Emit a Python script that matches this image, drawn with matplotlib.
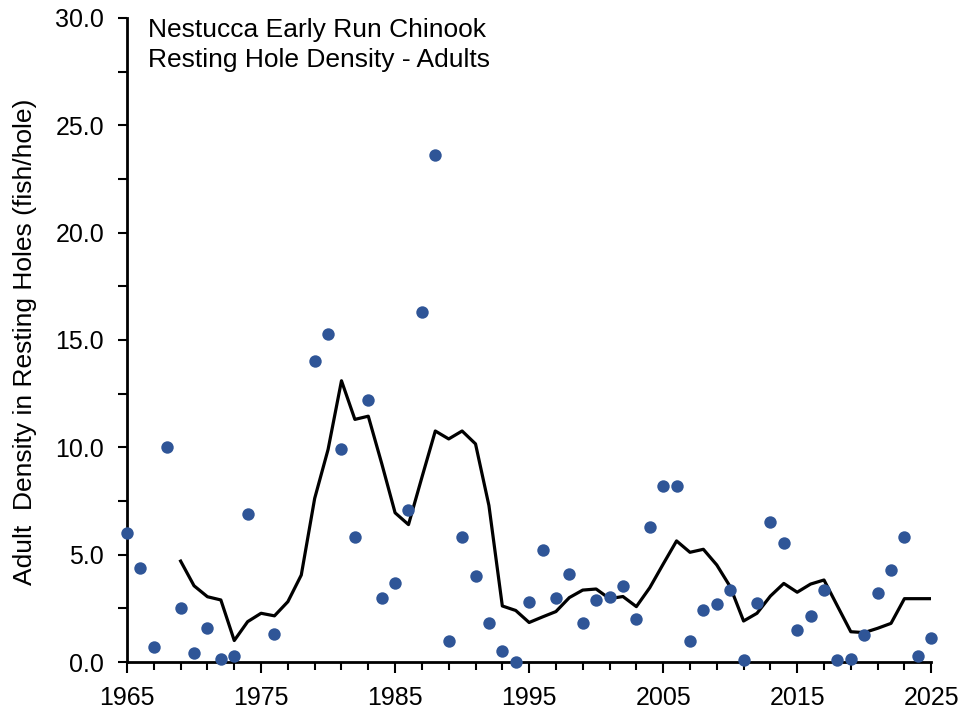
import numpy as np
import matplotlib
matplotlib.use("Agg")
import matplotlib.pyplot as plt
from matplotlib.ticker import MultipleLocator, FuncFormatter

plt.rcParams['font.family'] = ['Liberation Sans', 'DejaVu Sans']

point_years = list(range(1965, 2026))
point_values = [6.0, 4.4, 0.7, 10.0, 2.5, 0.4, 1.6, 0.15, 0.3, 6.9,
                np.nan, 1.3, np.nan, np.nan, 14.0, 15.3, 9.9, 5.8, 12.2, 3.0,
                3.7, 7.1, 16.3, 23.6, 1.0, 5.8, 4.0, 1.8, 0.5, 0.0,
                2.8, 5.2, 3.0, 4.1, 1.8, 2.9, 3.05, 3.55, 2.0, 6.3,
                8.2, 8.2, 1.0, 2.4, 2.7, 3.35, 0.1, 2.75, 6.5, 5.55,
                1.5, 2.15, 3.35, 0.1, 0.12, 1.25, 3.2, 4.3, 5.8, 0.3,
                1.1]

line_years = list(range(1969, 2026))
line_values = [4.7, 3.55, 3.04, 2.89, 1.0, 1.88, 2.27, 2.15, 2.81, 4.05,
               7.62, 9.9, 13.1, 11.3, 11.45, 9.25, 6.95, 6.4, 8.6, 10.76,
               10.39, 10.76, 10.16, 7.29, 2.61, 2.4, 1.84, 2.1, 2.35, 3.0,
               3.35, 3.4, 2.95, 3.05, 2.58, 3.46, 4.56, 5.64, 5.11, 5.25,
               4.52, 3.51, 1.91, 2.27, 3.07, 3.66, 3.25, 3.63, 3.82, 2.61,
               1.41, 1.37, 1.57, 1.8, 2.95, 2.95, 2.95]

title_lines = ["Nestucca Early Run Chinook", "Resting Hole Density - Adults"]
y_label = "Adult  Density in Resting Holes (fish/hole)"

fig = plt.figure(figsize=(9.66, 7.17), dpi=100)
ax = fig.add_axes([0.1315, 0.0767, 0.8325, 0.8983])

ax.plot(line_years, line_values, color='black', lw=2.3, zorder=2)
ax.scatter(point_years, point_values, s=80, color='#2F5597', zorder=3,
           clip_on=False, linewidths=0)

ax.set_xlim(1965, 2025)
ax.set_ylim(0, 30)

for s in ['top', 'right']:
    ax.spines[s].set_visible(False)
for s in ['left', 'bottom']:
    ax.spines[s].set_linewidth(2)
    ax.spines[s].set_color('black')

ax.xaxis.set_major_locator(MultipleLocator(10, offset=5))
ax.xaxis.set_minor_locator(MultipleLocator(2, offset=1))
ax.xaxis.set_major_formatter(FuncFormatter(lambda v, p: f"{int(round(v))}"))
ax.yaxis.set_major_locator(MultipleLocator(5))
ax.yaxis.set_minor_locator(MultipleLocator(2.5))
ax.yaxis.set_major_formatter(FuncFormatter(lambda v, p: f"{v:.1f}"))

ax.tick_params(axis='x', which='major', length=8, width=1.5, direction='out',
               labelsize=18, pad=9)
ax.tick_params(axis='x', which='minor', length=6, width=1.5, direction='out')
ax.tick_params(axis='y', which='major', length=6.5, width=1.5, direction='out',
               labelsize=18, pad=10)
ax.tick_params(axis='y', which='minor', length=6.5, width=1.5, direction='out')

fig.text(0.153, 1 - 36.7 / 717, title_lines[0], ha='left', va='baseline',
         fontsize=19)
fig.text(0.153, 1 - 66.7 / 717, title_lines[1], ha='left', va='baseline',
         fontsize=19)
fig.text(0.026, 0.523, y_label, rotation=90, ha='center', va='center',
         fontsize=19)

fig.savefig("out.png", dpi=100)
